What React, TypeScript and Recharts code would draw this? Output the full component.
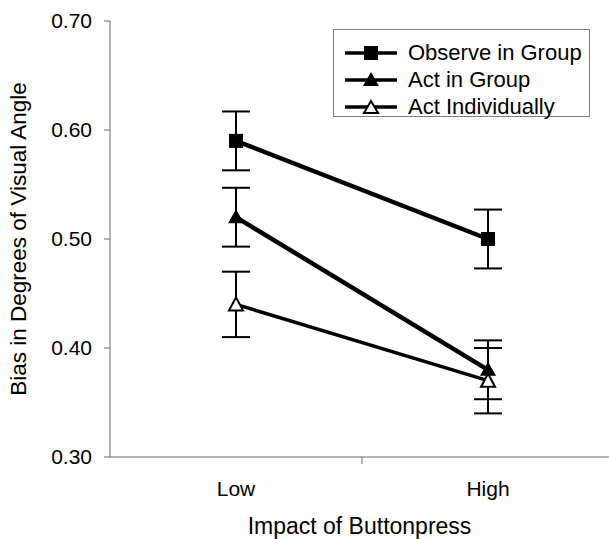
import React from 'react';
import { LineChart, Line, XAxis, YAxis, ErrorBar, Legend, Label } from 'recharts';

const categories = ['Low', 'High'];
const observeGroup = [0.59, 0.5];
const observeGroupErr = [0.027, 0.027];
const actGroup = [0.52, 0.38];
const actGroupErr = [0.027, 0.027];
const actIndividually = [0.44, 0.37];
const actIndividuallyErr = [0.03, 0.03];
const yTicks = [0.3, 0.4, 0.5, 0.6, 0.7];

const FONT = '"Liberation Sans", Arial, sans-serif';
const AXIS = '#6b6b6b';

const data = categories.map((name, i) => ({
  pos: i + 0.5,
  name,
  observe: observeGroup[i],
  observeErr: observeGroupErr[i],
  act: actGroup[i],
  actErr: actGroupErr[i],
  indiv: actIndividually[i],
  indivErr: actIndividuallyErr[i],
}));

const SquareDot = (props: any) => {
  const { cx, cy } = props;
  return <rect x={cx - 7} y={cy - 7} width={14} height={14} fill="#000" />;
};

const TriangleDot = (props: any) => {
  const { cx, cy } = props;
  return <polygon points={`${cx},${cy - 8} ${cx + 8},${cy + 6} ${cx - 8},${cy + 6}`} fill="#000" />;
};

const OpenTriangleDot = (props: any) => {
  const { cx, cy } = props;
  return (
    <polygon
      points={`${cx},${cy - 7} ${cx + 7},${cy + 6} ${cx - 7},${cy + 6}`}
      fill="#fff"
      stroke="#000"
      strokeWidth={2}
    />
  );
};

const XTick = (props: any) => {
  const { x, y, payload } = props;
  if (payload.value === 1) {
    return <line x1={x} y1={y} x2={x} y2={y + 7} stroke={AXIS} />;
  }
  const name = categories[Math.floor(payload.value)];
  return (
    <text x={x} y={y + 39} textAnchor="middle" fill="#000" fontSize={21} fontFamily={FONT}>
      {name}
    </text>
  );
};

const legendItems = [
  { label: 'Observe in Group', kind: 'square' },
  { label: 'Act in Group', kind: 'triangle' },
  { label: 'Act Individually', kind: 'open' },
];

const LegendBox = () => (
  <div
    style={{
      border: '1px solid #808080',
      background: '#fff',
      width: 257,
      height: 88,
      boxSizing: 'border-box',
      padding: '9px 0 0 11px',
      fontFamily: FONT,
      fontSize: 22,
      color: '#000',
      textAlign: 'left',
    }}
  >
    {legendItems.map((item) => (
      <div key={item.label} style={{ display: 'flex', alignItems: 'center', height: 27 }}>
        <svg width={52} height={18} style={{ marginRight: 11, flex: 'none' }}>
          <line x1={0} y1={9} x2={52} y2={9} stroke="#000" strokeWidth={3.5} />
          {item.kind === 'square' && <rect x={19} y={2} width={14} height={14} fill="#000" />}
          {item.kind === 'triangle' && <polygon points="26,1 34,15 18,15" fill="#000" />}
          {item.kind === 'open' && (
            <polygon points="26,3 33,15 19,15" fill="#fff" stroke="#000" strokeWidth={2} />
          )}
        </svg>
        <span style={{ lineHeight: '27px', whiteSpace: 'nowrap' }}>{item.label}</span>
      </div>
    ))}
  </div>
);

const YTitle = (props: any) => {
  const { viewBox } = props;
  const cy = viewBox.y + viewBox.height / 2;
  return (
    <text
      transform={`translate(26, ${cy}) rotate(-90)`}
      textAnchor="middle"
      fill="#000"
      fontSize={22.5}
      fontFamily={FONT}
    >
      Bias in Degrees of Visual Angle
    </text>
  );
};

const XTitle = (props: any) => {
  const { viewBox } = props;
  const cx = viewBox.x + viewBox.width / 2;
  return (
    <text x={cx} y={534} textAnchor="middle" fill="#000" fontSize={23} fontFamily={FONT}>
      Impact of Buttonpress
    </text>
  );
};

const App: React.FC = () => {
  return (
    <div style={{ position: 'absolute', left: 0, top: 0, background: '#fff' }}>
      <LineChart width={609} height={539} data={data} margin={{ top: 21, right: 0, left: 0, bottom: 0 }}>
        <XAxis
          dataKey="pos"
          type="number"
          domain={[0, 1.98]}
          ticks={[0.5, 1, 1.5]}
          interval={0}
          height={82}
          stroke={AXIS}
          tickLine={false}
          tickSize={0}
          tickMargin={0}
          tick={<XTick />}
        >
          <Label content={<XTitle />} />
        </XAxis>
        <YAxis
          type="number"
          domain={[0.3, 0.7]}
          ticks={yTicks}
          interval={0}
          width={110}
          stroke={AXIS}
          tickSize={6}
          tickMargin={12}
          tickFormatter={(v: number) => v.toFixed(2)}
          tick={{ fill: '#000', fontSize: 21, fontFamily: FONT }}
        >
          <Label content={<YTitle />} />
        </YAxis>
        <Legend
          layout="horizontal"
          verticalAlign="middle"
          align="center"
          content={<LegendBox />}
          wrapperStyle={{ position: 'absolute', left: 333, top: 29, width: 257, height: 88 }}
        />
        <Line
          dataKey="indiv"
          stroke="#000"
          strokeWidth={3.5}
          dot={<OpenTriangleDot />}
          activeDot={false}
          isAnimationActive={false}
        >
          <ErrorBar dataKey="indivErr" direction="y" width={14} stroke="#000" strokeWidth={2} />
        </Line>
        <Line
          dataKey="act"
          stroke="#000"
          strokeWidth={4.5}
          dot={<TriangleDot />}
          activeDot={false}
          isAnimationActive={false}
        >
          <ErrorBar dataKey="actErr" direction="y" width={14} stroke="#000" strokeWidth={2} />
        </Line>
        <Line
          dataKey="observe"
          stroke="#000"
          strokeWidth={4.5}
          dot={<SquareDot />}
          activeDot={false}
          isAnimationActive={false}
        >
          <ErrorBar dataKey="observeErr" direction="y" width={14} stroke="#000" strokeWidth={2} />
        </Line>
      </LineChart>
    </div>
  );
};

export default App;
